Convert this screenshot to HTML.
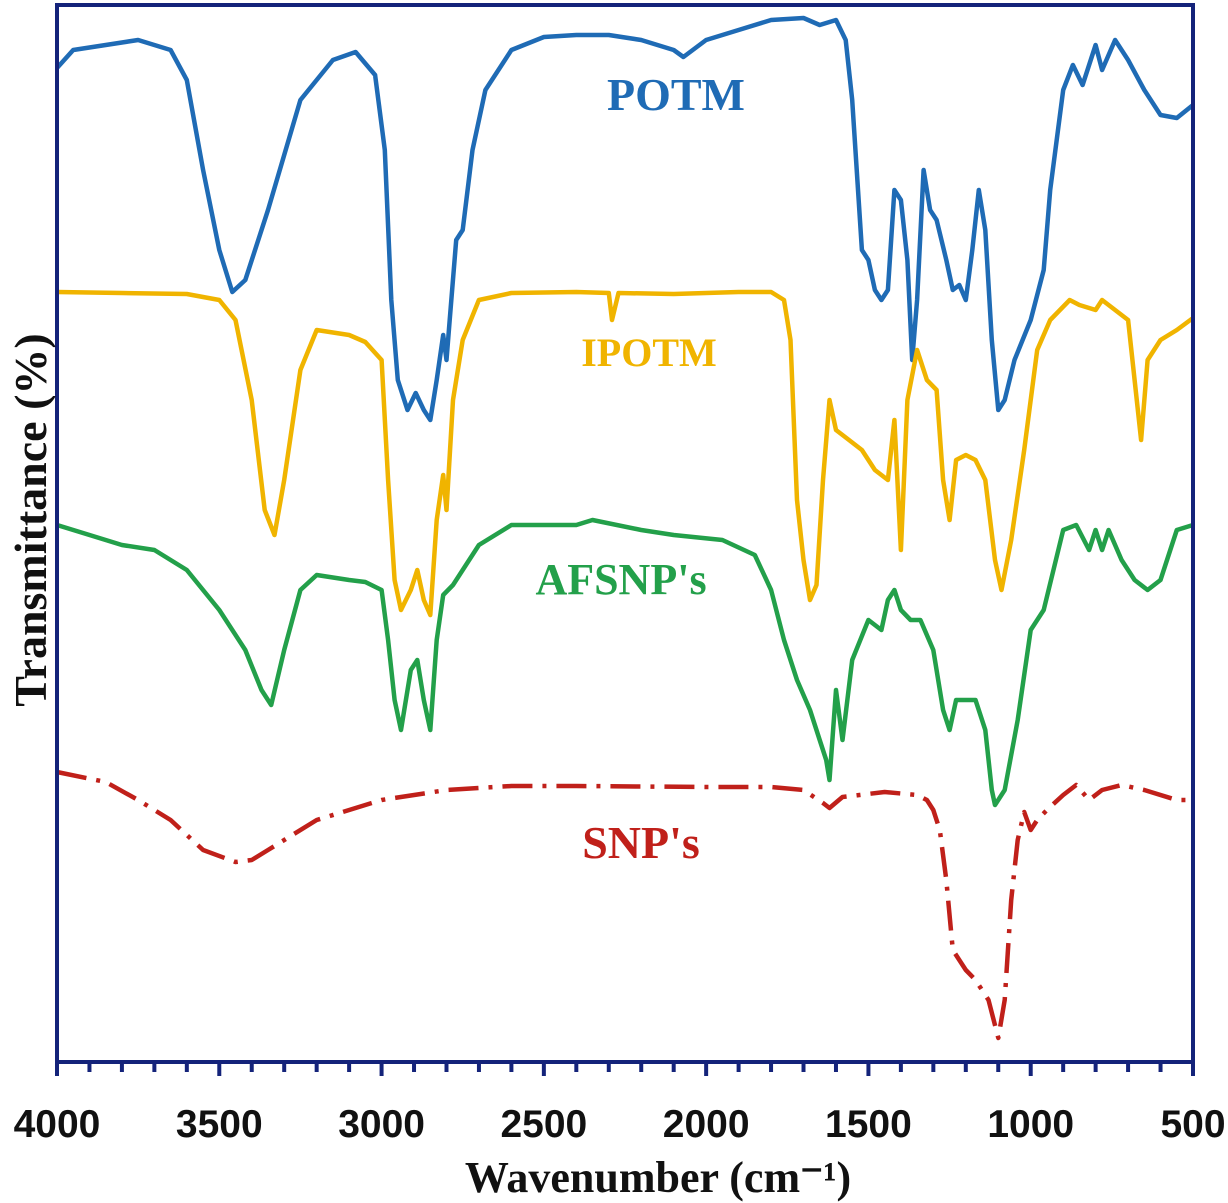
<!DOCTYPE html>
<html><head><meta charset="utf-8"><style>
html,body{margin:0;padding:0;background:#fff;}
svg{display:block;}
</style></head><body>
<svg id="chart" width="1228" height="1203" xmlns="http://www.w3.org/2000/svg">
<g id="plot"></g>
<g id="axes"></g>
<text x="676" y="110" text-anchor="middle" font-family="Liberation Serif, serif" font-weight="bold" font-size="46" fill="#1f6bb5">POTM</text>
<text x="649" y="366" text-anchor="middle" font-family="Liberation Serif, serif" font-weight="bold" font-size="40" fill="#f0b400">IPOTM</text>
<text x="621" y="594" text-anchor="middle" font-family="Liberation Serif, serif" font-weight="bold" font-size="44" fill="#23a04a">AFSNP's</text>
<text x="641" y="858" text-anchor="middle" font-family="Liberation Serif, serif" font-weight="bold" font-size="46" fill="#c0201a">SNP's</text>
<text x="658" y="1192" text-anchor="middle" font-family="Liberation Serif, serif" font-weight="bold" font-size="44" fill="#111">Wavenumber (cm⁻¹)</text>
<text x="0" y="0" transform="translate(46,520) rotate(-90)" text-anchor="middle" font-family="Liberation Serif, serif" font-weight="bold" font-size="46" fill="#111">Transmittance (%)</text>
</svg>
<script>
// x: wavenumber; y values: relative transmittance (arbitrary units, higher = more transmittance)
const potmW = [4000,3950,3850,3750,3650,3600,3550,3500,3460,3420,3350,3250,3150,3080,3020,2990,2970,2950,2920,2895,2870,2850,2830,2810,2800,2790,2770,2750,2720,2680,2600,2500,2400,2300,2200,2100,2070,2000,1900,1800,1700,1650,1600,1570,1550,1520,1500,1480,1460,1440,1420,1400,1380,1365,1350,1330,1310,1290,1260,1240,1220,1200,1180,1160,1140,1120,1100,1080,1050,1000,960,940,900,870,840,800,780,740,700,650,600,550,500];
const potmT = [994,1012,1017,1022,1012,982,892,812,770,782,852,962,1002,1010,987,912,762,682,652,669,652,642,682,727,702,742,822,832,912,972,1012,1025,1027,1027,1022,1012,1005,1022,1032,1042,1044,1037,1042,1022,962,812,802,772,762,772,872,862,802,702,762,892,852,842,802,772,777,762,812,872,832,722,652,662,702,742,792,872,972,997,977,1017,992,1022,1002,972,947,944,957];
const ipotmW = [4000,3800,3600,3500,3450,3400,3360,3330,3300,3250,3200,3100,3050,3000,2980,2960,2940,2910,2890,2870,2850,2830,2810,2800,2780,2750,2700,2600,2400,2300,2290,2270,2100,1900,1800,1760,1740,1720,1700,1680,1660,1640,1620,1600,1560,1520,1480,1440,1420,1400,1380,1350,1320,1290,1270,1250,1230,1200,1170,1140,1110,1090,1060,1020,980,940,880,850,800,780,740,700,680,660,640,600,550,500];
const ipotmT = [770,769,768,762,742,662,552,527,582,692,732,727,720,702,582,482,452,472,492,462,447,542,587,552,662,722,762,769,770,769,742,769,768,770,770,762,722,562,502,462,477,582,662,632,622,612,592,582,642,512,662,712,682,672,582,542,602,607,602,582,502,472,522,612,712,742,762,757,752,762,752,742,682,622,702,722,732,744];
const afsnpW = [4000,3900,3800,3700,3600,3500,3420,3370,3340,3300,3250,3200,3100,3050,3000,2980,2960,2940,2910,2890,2870,2850,2830,2810,2780,2750,2700,2600,2400,2350,2200,2100,1950,1850,1800,1760,1720,1680,1650,1630,1620,1600,1580,1550,1500,1460,1440,1420,1400,1370,1340,1300,1270,1250,1230,1200,1170,1140,1120,1110,1080,1040,1000,960,900,860,820,800,780,760,720,680,640,600,550,500];
const afsnpT = [537,527,517,512,492,452,412,372,357,412,472,487,482,480,472,422,362,332,392,402,362,332,422,467,477,492,517,537,537,542,532,527,522,507,472,422,382,352,322,302,282,372,322,402,442,432,462,472,452,442,442,412,352,332,362,362,362,332,272,257,272,342,432,452,532,537,512,532,512,532,502,482,472,482,532,537];
const snpW = [4000,3850,3750,3650,3550,3450,3400,3350,3200,3000,2800,2600,2400,2000,1800,1700,1640,1620,1580,1450,1350,1320,1300,1280,1260,1240,1200,1170,1130,1100,1080,1060,1040,1020,1000,980,950,900,860,820,780,720,650,550,500];
const snpT = [290,280,262,242,212,200,202,212,242,262,272,276,276,275,275,272,259,254,265,270,267,262,252,232,182,112,92,82,62,24,62,162,222,250,232,242,252,267,277,262,272,277,272,262,262];
const majorTicks = [4000,3500,3000,2500,2000,1500,1000,500];
const tickLabels = ["4000","3500","3000","2500","2000","1500","1000","500"];

const X0=57, X1=1193, YB=1062, YT=5;
function xs(w){ return X0 + (4000-w)*(X1-X0)/3500; }
function ys(t){ return YB - t*(YB-YT)/1057; }
const NS="http://www.w3.org/2000/svg";
const plot=document.getElementById('plot'), axes=document.getElementById('axes');
function addLine(W,T,color,name,dash){
  const p=document.createElementNS(NS,'path');
  let d=''; W.forEach((w,i)=>{ d+=(i?'L':'M')+xs(w).toFixed(1)+' '+ys(T[i]).toFixed(1); });
  p.setAttribute('d',d); p.setAttribute('fill','none'); p.setAttribute('stroke',color);
  p.setAttribute('stroke-width','4.5'); p.setAttribute('stroke-linejoin','round');
  if(dash) p.setAttribute('stroke-dasharray',dash);
  
  
  plot.appendChild(p);
}
addLine(potmW,potmT,'#1f6bb5','series-potm');
addLine(ipotmW,ipotmT,'#f0b400','series-ipotm');
addLine(afsnpW,afsnpT,'#23a04a','series-afsnps');
addLine(snpW,snpT,'#c0201a','series-snps','30,10,4,10');

const frame=document.createElementNS(NS,'rect');
frame.setAttribute('x',X0); frame.setAttribute('y',YT); frame.setAttribute('width',X1-X0); frame.setAttribute('height',YB-YT);
frame.setAttribute('fill','none'); frame.setAttribute('stroke','#14237a'); frame.setAttribute('stroke-width','4');


axes.appendChild(frame);
for(let w=4000; w>=500; w-=100){
  const major = w%500===0;
  const t=document.createElementNS(NS,'line');
  t.setAttribute('x1',xs(w)); t.setAttribute('x2',xs(w)); t.setAttribute('y1',YB); t.setAttribute('y2',YB+(major?14:10));
  t.setAttribute('stroke','#14237a'); t.setAttribute('stroke-width','4');
  
  
  axes.appendChild(t);
}
majorTicks.forEach((w,i)=>{
  const tx=document.createElementNS(NS,'text');
  tx.setAttribute('x',xs(w)); tx.setAttribute('y',1137); tx.setAttribute('text-anchor','middle');
  tx.setAttribute('font-family','Liberation Sans, sans-serif'); tx.setAttribute('font-weight','bold'); tx.setAttribute('font-size','39'); tx.setAttribute('fill','#111');
  tx.textContent=tickLabels[i];
  
  
  axes.appendChild(tx);
});
</script>
</body></html>
